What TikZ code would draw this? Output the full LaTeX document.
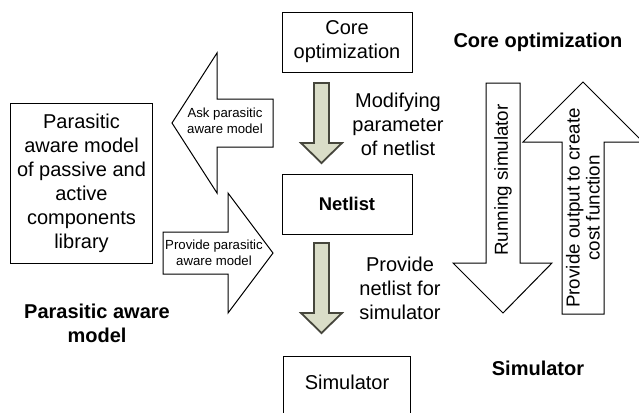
\documentclass[tikz,border=0pt]{standalone}
\usepackage{fontspec}
\setmainfont{Liberation Sans}
\usepackage{tikz}
\usetikzlibrary{positioning}
\definecolor{flowgreen}{RGB}{218,221,200}
\definecolor{flowedge}{RGB}{70,70,60}
\tikzset{blockbox/.style={draw, line width=0.5pt, align=center, font=\fontsize{10}{12}\selectfont},
  bigarrow/.style={draw, line width=0.5pt, fill=white},
  flowarrow/.style={draw=flowedge, line width=0.9pt, fill=flowgreen},
  steplabel/.style={align=center, font=\fontsize{10}{12}\selectfont},
  smalllabel/.style={align=center, font=\fontsize{6.6}{8}\selectfont},
  partlabel/.style={align=center, font=\fontsize{10}{12}\selectfont\bfseries}}
\begin{document}
\begin{tikzpicture}[x=0.5pt, y=-0.5pt]
\useasboundingbox (0,0) rectangle (639,413);
\node[blockbox, minimum width=65pt, minimum height=30pt] (core) at (347,42) {Core\\optimization};
\node[blockbox, minimum width=65pt, minimum height=30pt, below=50.5pt of core, font=\fontsize{9.2}{11}\selectfont\bfseries] (net) {Netlist};
\node[blockbox, minimum width=63.5pt, minimum height=33pt, text depth=7pt, below=60.5pt of net] (sim) {Simulator};
\node[blockbox, minimum width=70.5pt, minimum height=80pt] (lib) at (81.5,183) {Parasitic\\aware model\\of passive and\\active\\components\\library};
% flow arrows of the middle column
\draw[flowarrow] (314,83) -- (329,83) -- (329,143) -- (342,143) -- (321.5,163) -- (301,143) -- (314,143) -- cycle;
\draw[flowarrow] (314,243) -- (329,243) -- (329,313) -- (342,313) -- (321.5,333) -- (301,313) -- (314,313) -- cycle;
% library arrows
\draw[bigarrow] (273,99) -- (217,99) -- (217,53) -- (172,123) -- (217,193) -- (217,147) -- (273,147) -- cycle;
\draw[bigarrow] (163,232) -- (228,232) -- (228,193) -- (273,253) -- (228,313) -- (228,274) -- (163,274) -- cycle;
% simulator loop arrows
\draw[bigarrow] (486,83) -- (520,83) -- (520,263) -- (552,263) -- (503,313) -- (453,263) -- (486,263) -- cycle;
\draw[bigarrow] (562,314) -- (562,142) -- (523,142) -- (583,82) -- (643,142) -- (604,142) -- (604,314) -- cycle;
\node[smalllabel] (ask) at (225,121) {Ask parasitic\\aware model};
\node[smalllabel] (give) at (214,253) {Provide parasitic\\aware model};
\node[steplabel, font=\fontsize{9.4}{10}\selectfont, rotate=90] (run) at (503,180) {Running simulator};
\node[steplabel, font=\fontsize{9.4}{10}\selectfont, rotate=90] (cost) at (583,208) {Provide output to create\\cost function};
\node[steplabel] (modify) at (398,124) {Modifying\\parameter\\of netlist};
\node[steplabel] (feed) at (400,288) {Provide\\netlist for\\simulator};
\node[partlabel] (corelab) at (538,42) {Core optimization};
\node[partlabel] (modellab) at (97,323) {Parasitic aware\\model};
\node[partlabel] (simlab) at (538,368) {Simulator};
\end{tikzpicture}
\end{document}
